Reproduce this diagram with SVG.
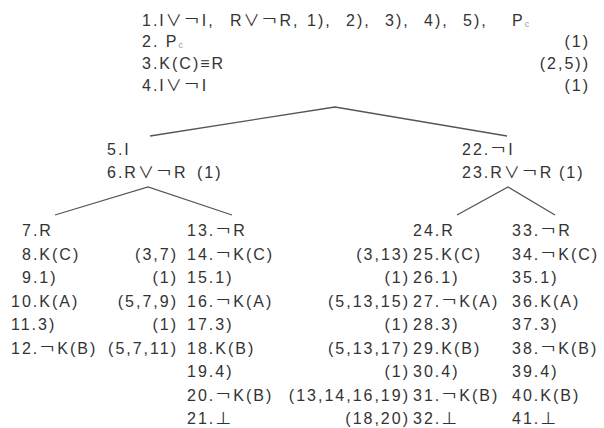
<svg xmlns="http://www.w3.org/2000/svg" width="604" height="428" viewBox="0 0 604 428">
<style>
text{font-family:"Liberation Sans","Noto Sans CJK JP",sans-serif;font-size:16px;letter-spacing:2px;fill:#333}
.e{text-anchor:end}
.s{font-size:9px;fill:#999;letter-spacing:0}
.ln{fill:none;stroke:#555;stroke-width:1.3}
</style>
<rect width="604" height="428" fill="#fff"/>
<g id="connectors">
<polyline class="ln" points="150,136 335,107 507,136"/>
<polyline class="ln" points="55,215 148,187 232,215"/>
<polyline class="ln" points="457,215 508,187 555,215"/>
</g>
<g id="root">
<text y="26"><tspan x="142">1.I∨￢I,</tspan><tspan x="230">R∨￢R,</tspan><tspan x="307">1),</tspan><tspan x="346">2),</tspan><tspan x="385">3),</tspan><tspan x="424">4),</tspan><tspan x="463">5),</tspan><tspan x="512">P</tspan><tspan class="s" dy="1">c</tspan></text>
<text y="47"><tspan x="142">2. P</tspan><tspan class="s" dy="1">c</tspan></text>
<text y="69" x="142">3.K(C)≡R</text>
<text y="91" x="142">4.I∨￢I</text>
<text class="e" x="590" y="47">(1)</text>
<text class="e" x="590" y="69">(2,5))</text>
<text class="e" x="590" y="91">(1)</text>
</g>
<g id="n5">
<text x="107" y="155">5.I</text>
<text x="107" y="178">6.R∨￢R</text>
<text x="197" y="178">(1)</text>
</g>
<g id="n22">
<text x="462" y="155">22.￢I</text>
<text x="462" y="178">23.R∨￢R</text>
<text x="559" y="178">(1)</text>
</g>
<g id="n7">
<text x="22" y="236">7.R</text>
<text x="22" y="259.5">8.K(C)</text>
<text x="22" y="283">9.1)</text>
<text x="11" y="306.5">10.K(A)</text>
<text x="11" y="330">11.3)</text>
<text x="11" y="353.5">12.￢K(B)</text>
<text class="e" x="178" y="259.5">(3,7)</text>
<text class="e" x="178" y="283">(1)</text>
<text class="e" x="178" y="306.5">(5,7,9)</text>
<text class="e" x="178" y="330">(1)</text>
<text class="e" x="178" y="353.5">(5,7,11)</text>
</g>
<g id="n13">
<text x="187" y="236">13.￢R</text>
<text x="187" y="259.5">14.￢K(C)</text>
<text x="187" y="283">15.1)</text>
<text x="187" y="306.5">16.￢K(A)</text>
<text x="187" y="330">17.3)</text>
<text x="187" y="353.5">18.K(B)</text>
<text x="187" y="377">19.4)</text>
<text x="187" y="400.5">20.￢K(B)</text>
<text x="187" y="424">21.⊥</text>
<text class="e" x="410" y="259.5">(3,13)</text>
<text class="e" x="410" y="283">(1)</text>
<text class="e" x="410" y="306.5">(5,13,15)</text>
<text class="e" x="410" y="330">(1)</text>
<text class="e" x="410" y="353.5">(5,13,17)</text>
<text class="e" x="410" y="377">(1)</text>
<text class="e" x="410" y="400.5">(13,14,16,19)</text>
<text class="e" x="410" y="424">(18,20)</text>
</g>
<g id="n24">
<text x="413" y="236">24.R</text>
<text x="413" y="259.5">25.K(C)</text>
<text x="413" y="283">26.1)</text>
<text x="413" y="306.5">27.￢K(A)</text>
<text x="413" y="330">28.3)</text>
<text x="413" y="353.5">29.K(B)</text>
<text x="413" y="377">30.4)</text>
<text x="413" y="400.5">31.￢K(B)</text>
<text x="413" y="424">32.⊥</text>
</g>
<g id="n33">
<text x="512" y="236">33.￢R</text>
<text x="512" y="259.5">34.￢K(C)</text>
<text x="512" y="283">35.1)</text>
<text x="512" y="306.5">36.K(A)</text>
<text x="512" y="330">37.3)</text>
<text x="512" y="353.5">38.￢K(B)</text>
<text x="512" y="377">39.4)</text>
<text x="512" y="400.5">40.K(B)</text>
<text x="512" y="424">41.⊥</text>
</g>
</svg>
